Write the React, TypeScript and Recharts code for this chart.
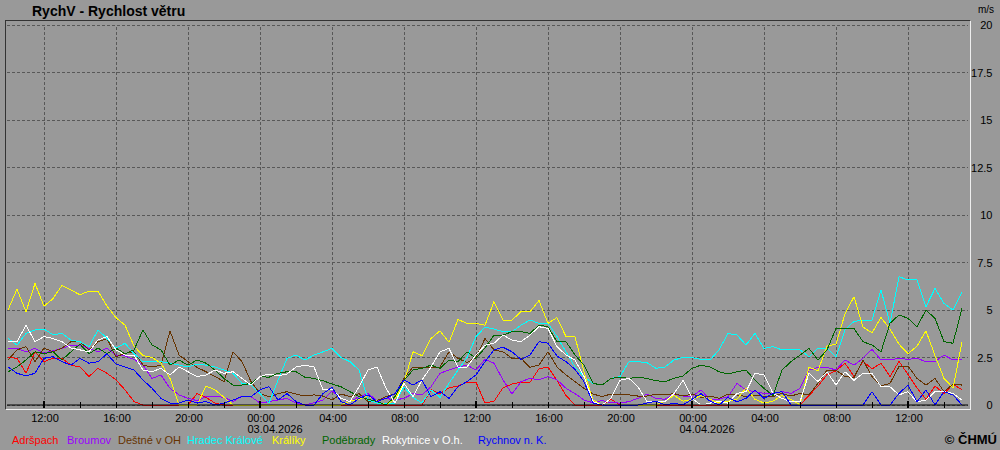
import { CartesianGrid, Line, LineChart, ReferenceLine, XAxis, YAxis } from "recharts";

// 02.04.2026 10:00 is t = 0, one sample every 30 minutes
const START_HOUR = 10;
const START_DAY = 2;
const STEP_H = 0.5;

const ADRSPACH = [
  2.5, 2.46, 1.67, 2.8, 2.28, 2.46, 2.46, 2.1, 2.0, 1.5, 1.93, 1.67, 1.32, 0.8, 0.18, 0, 0, 0, 0, 0, 0, 0.6, 0.4, 0.1, 0, 0, 0,
  0, 0, 0, 0, 0, 0, 0, 0, 0, 0, 0, 0, 0, 0, 0, 0, 0, 0, 0, 0, 0.8, 0.6, 0.9, 1.0, 1.2, 1.2, 0.1,
  0.2, 0.9, 1.1, 1.2, 1.2, 1.9, 2.0, 1.3, 0.5, 0, 0, 0, 0, 0.3, 0, 0, 0, 0, 0, 0, 0, 0, 0, 0, 0, 0, 0,
  0, 0, 0, 0, 0, 0, 0, 0, 0.5, 1.0, 1.6, 1.8, 2.2, 1.5, 2.3, 1.9, 2.2, 1.5, 2.3, 1.6, 0.9, 0.3, 1.0, 0.6, 1.1, 0.8,
];
const BROUMOV = [
  2.98, 2.98, 2.8, 2.98, 2.72, 2.86, 2.98, 3.15, 3.15, 2.98, 2.8, 2.98, 2.63, 2.58, 2.4, 2.1, 1.4, 1.58, 0.88, 0.53, 0.35, 0.23, 0.44, 0.47, 0.4, 0.18, 0.47,
  0.44, 0.1, 0.18, 0.26, 0.35, 0.1, 0, 0.12, 0.26, 0.75, 0.35, 0.18, 0.44, 0.6, 0.23, 0.35, 0.26, 0.35, 0.6, 0.53, 0.96, 1.67, 1.84, 2.0, 2.1, 1.84, 2.4,
  2.2, 1.32, 0.58, 1.23, 1.4, 1.32, 1.5, 1.32, 0.88, 0.6, 0.26, 0.12, 0.23, 0.12, 0.1, 0.18, 0.35, 0.58, 0.35, 0.3, 0.58, 0.47, 0.44, 0.8, 0.26, 0.3, 0.44,
  1.14, 0.79, 0.7, 0.61, 0.61, 0.7, 0.61, 0.88, 1.84, 1.98, 1.98, 1.84, 2.37, 2.1, 2.46, 2.93, 2.37, 2.37, 2.46, 2.4, 2.46, 2.28, 2.28, 2.63, 2.37, 2.4,
];
const DESTNE = [
  2.37, 2.9, 3.07, 2.28, 3.0, 2.8, 3.0, 3.33, 3.33, 2.9, 3.33, 3.5, 2.54, 2.72, 2.8, 2.1, 2.0, 2.1, 3.9, 2.63, 2.28, 1.98, 1.75, 1.5, 1.23, 2.8, 2.28,
  1.23, 0.6, 0.44, 0.6, 0.7, 0.58, 0.47, 0.53, 0.47, 0.26, 0.58, 0.44, 0.6, 0.18, 0.23, 0.44, 0.58, 1.4, 2.0, 1.98, 1.98, 2.0, 2.8, 2.46, 2.23, 2.5, 3.5,
  2.9, 2.8, 2.46, 2.46, 1.98, 2.1, 2.8, 2.0, 1.58, 1.23, 0.88, 0.58, 0.44, 0.58, 0.53, 0.53, 0.47, 0.47, 0.58, 0.53, 0.6, 0.47, 0.58, 0.4, 0.47, 0.35, 0.58,
  0.53, 0.44, 0.53, 0.44, 0.44, 0.61, 0.47, 0.61, 0.53, 1.14, 1.84, 1.84, 1.49, 1.45, 2.37, 1.49, 1.0, 1.14, 2.02, 2.05, 1.4, 1.05, 1.4, 0.7, 1.1, 1.05,
];
const HRADEC = [
  3.5, 3.15, 3.77, 3.95, 4.0, 3.7, 3.77, 3.42, 3.33, 3.07, 3.95, 3.5, 3.0, 3.25, 2.7, 2.28, 2.28, 2.28, 2.2, 2.1, 2.0, 2.15, 2.1, 2.0, 1.85, 1.67, 1.14,
  1.05, 0.6, 0.1, 1.3, 2.45, 2.63, 2.37, 2.63, 2.8, 2.98, 2.5, 2.28, 1.84, 0.26, 0.1, 0.1, 0.1, 0.96, 0.4, 0.1, 0.8, 0.4, 1.14, 1.84, 2.5, 3.6, 4.1,
  4.0, 3.86, 3.86, 4.2, 4.47, 4.3, 4.3, 3.6, 2.8, 2.0, 1.5, 1.14, 1.05, 1.4, 1.5, 2.28, 2.28, 2.23, 1.93, 2.0, 2.37, 2.5, 2.5, 2.4, 2.37, 2.9, 3.77,
  3.68, 3.16, 3.77, 2.98, 3.07, 2.9, 2.9, 2.9, 2.54, 3.0, 2.98, 2.54, 3.95, 4.4, 4.47, 4.47, 6.05, 4.3, 6.75, 6.58, 6.58, 5.17, 6.14, 5.35, 5.0, 5.96,
];
const KRALIKY = [
  5.0, 6.1, 4.9, 6.4, 5.2, 5.6, 6.3, 6.05, 5.8, 6.0, 6.0, 5.2, 4.6, 4.2, 3.1, 2.6, 2.5, 2.2, 1.4, 0, 0, 0, 1.0, 0.8, 0.4, 0, 0,
  0, 0, 0, 0, 0, 0, 0, 0, 0, 0, 0, 0.2, 0.3, 0.5, 0.2, 0, 0.3, 1.2, 2.8, 2.6, 3.5, 3.9, 3.3, 4.5, 4.3, 4.3, 4.2,
  5.44, 4.47, 4.47, 4.91, 4.91, 5.5, 4.3, 4.6, 3.6, 3.6, 1.75, 0.26, 0, 0, 0, 0, 0, 0, 0, 0.2, 0.5, 0.2, 0.3, 0.5, 0.3, 0.1, 0.2,
  0.3, 0.9, 0.3, 0.1, 0.2, 0.5, 0.3, 0, 2.0, 1.8, 3.1, 3.2, 4.8, 5.7, 4.1, 3.8, 4.6, 4.0, 3.2, 2.7, 3.1, 3.9, 2.6, 1.4, 0.9, 3.3,
];
const PODEBRADY = [
  1.75, 2.0, 2.37, 2.8, 2.7, 2.8, 2.37, 2.8, 3.2, 2.7, 3.0, 2.7, 3.0, 2.7, 2.9, 3.95, 3.16, 2.9, 2.1, 2.37, 2.1, 2.37, 2.2, 1.84, 1.4, 1.05, 1.05,
  1.14, 1.5, 1.46, 1.67, 1.75, 1.75, 1.46, 1.4, 1.28, 1.1, 0.96, 0.7, 0.44, 0.3, 0.18, 0, 0.44, 1.3, 1.84, 1.93, 2.1, 1.93, 2.37, 2.28, 2.8, 2.46, 3.0,
  3.68, 3.68, 3.86, 3.86, 3.77, 4.2, 4.12, 3.33, 3.33, 2.63, 2.1, 1.14, 1.05, 1.4, 1.46, 1.4, 1.46, 1.4, 1.28, 1.23, 1.4, 1.53, 1.93, 2.1, 2.0, 1.75, 1.63,
  1.75, 1.84, 1.3, 0.88, 0.5, 1.84, 2.28, 2.63, 2.98, 2.37, 2.9, 4.03, 4.03, 4.03, 3.33, 3.16, 2.8, 4.3, 4.74, 4.56, 4.12, 5.0, 4.56, 3.33, 3.25, 5.09,
];
const ROKYTNICE = [
  3.33, 3.33, 4.2, 3.33, 3.6, 3.5, 3.33, 3.0, 2.9, 2.8, 3.42, 3.6, 2.9, 2.63, 2.63, 1.84, 1.75, 1.93, 1.58, 2.0, 1.75, 1.5, 1.58, 1.84, 1.67, 1.75, 1.4,
  1.05, 1.5, 1.63, 1.53, 1.63, 2.0, 2.1, 2.0, 0.8, 0.83, 0.35, 0.18, 0.96, 1.84, 2.0, 0.88, 0.1, 1.14, 0.44, 1.32, 2.0, 2.8, 2.98, 2.0, 2.0, 2.63, 3.15,
  3.25, 3.68, 3.42, 3.33, 3.68, 4.12, 4.03, 3.07, 2.63, 2.37, 1.5, 0.18, 0, 0.35, 1.3, 1.4, 0.96, 0.18, 0.18, 0.18, 0.6, 1.3, 0.35, 0, 0.1, 0.18, 0.1,
  0.61, 0.7, 1.67, 1.58, 0.61, 0.35, 0.17, 0.17, 1.67, 1.23, 1.75, 1.05, 1.75, 1.3, 1.67, 1.67, 0.96, 0.96, 0.53, 0.7, 0.17, 0.26, 0.7, 0.7, 0.61, 0.26,
];
const RYCHNOV = [
  2.0, 1.67, 1.53, 1.67, 2.46, 2.54, 2.28, 2.1, 2.46, 2.2, 2.28, 2.7, 2.15, 2.0, 1.84, 1.32, 0.88, 0.35, 0.1, 0.1, 0.26, 0.1, 0.18, 0, 0.1, 0.26, 0.44,
  0.44, 0.8, 0.96, 0.26, 0.6, 0.18, 0, 0, 0.6, 0.93, 0.18, 0, 0.35, 0.53, 0.18, 0.35, 0.6, 1.32, 1.05, 1.32, 0.44, 0.7, 0.35, 0.96, 1.23, 1.58, 2.28,
  2.9, 3.04, 2.8, 2.4, 2.63, 3.33, 3.25, 2.58, 2.28, 1.88, 1.23, 0.1, 0, 0, 0, 0, 0, 0.1, 0.2, 0, 0.1, 0, 0.3, 0.6, 0.2, 0, 0.4,
  0.17, 0.35, 0.79, 0.35, 0.61, 0.7, 0, 0, 0, 0, 0, 0, 0, 0, 0, 0.7, 0, 0, 0.61, 1.05, 0.17, 0.79, 0, 0.7, 0.53, 0,
];

const SERIES = [
  { key: "adrspach", name: "Adršpach", color: "#ff0000", values: ADRSPACH },
  { key: "broumov", name: "Broumov", color: "#9900ff", values: BROUMOV },
  { key: "destne", name: "Deštné v OH", color: "#663300", values: DESTNE },
  { key: "hradec", name: "Hradec Králové", color: "#00ffff", values: HRADEC },
  { key: "kraliky", name: "Králíky", color: "#ffff00", values: KRALIKY },
  { key: "podebrady", name: "Poděbrady", color: "#006600", values: PODEBRADY },
  { key: "rokytnice", name: "Rokytnice v O.h.", color: "#ffffff", values: ROKYTNICE },
  { key: "rychnov", name: "Rychnov n. K.", color: "#0000ff", values: RYCHNOV },
];

// left edge of each legend entry
const LEGEND_X = [12, 67, 118, 187, 272, 322, 382, 478];

const X_TICKS = [2, 4, 6, 8, 10, 12, 14, 16, 18, 20, 22, 24, 26, 28, 30, 32, 34, 36, 38, 40, 42, 44, 46, 48, 50, 52];
const X_GRID = [2, 6, 10, 14, 18, 22, 26, 30, 34, 38, 42, 46, 50];
const Y_TICKS = [0, 2.5, 5, 7.5, 10, 12.5, 15, 17.5, 20];

const data = ADRSPACH.map((_, i) => {
  const row: Record<string, number> = { t: i * STEP_H };
  SERIES.forEach((s) => {
    row[s.key] = s.values[i];
  });
  return row;
});

const FONT = "'Liberation Sans', Arial, sans-serif";
const GRID_COLOR = "#585858";

const pad = (n: number) => n.toString().padStart(2, "0");

function TimeTick(props: any) {
  const { x, y, payload } = props;
  const abs = START_HOUR + payload.value;
  const hour = abs % 24;
  const major = hour % 12 === 0;
  const day = START_DAY + Math.floor(abs / 24);
  return (
    <g style={{ shapeRendering: "crispEdges" }}>
      {major ? (
        <rect x={x - 1} y={y - 4} width={2} height={7} fill="#000" />
      ) : (
        <line x1={x} x2={x} y1={y - 3} y2={y + 3} stroke="#000" />
      )}
      {hour % 4 === 0 && (
        <text x={x + 1} y={y + 16.5} textAnchor="middle" fontSize={11} fontFamily={FONT} fill="#000">
          {pad(hour)}:00
        </text>
      )}
      {hour === 0 && (
        <text x={x - 12.5} y={y + 27.5} fontSize={11} fontFamily={FONT} fill="#000">
          {pad(day)}.04.2026
        </text>
      )}
    </g>
  );
}

function ValueTick(props: any) {
  const { x, y, payload } = props;
  return (
    <text x={x + 24.5} y={y + 4} textAnchor="end" fontSize={11} fontFamily={FONT} fill="#000">
      {payload.value}
    </text>
  );
}

export default function App() {
  return (
    <div
      style={{
        position: "absolute",
        left: 0,
        top: 0,
        width: 1000,
        height: 450,
        background: "#999999",
        fontFamily: FONT,
      }}
    >
      <div
        style={{
          position: "absolute",
          left: 5,
          top: 20,
          width: 966,
          height: 390,
          boxSizing: "border-box",
          borderTop: "1px solid #333",
          borderLeft: "1px solid #333",
          borderRight: "1px solid #eeeeee",
          borderBottom: "1px solid #eeeeee",
        }}
      />
      <svg width={1000} height={450} style={{ position: "absolute", left: 0, top: 0 }}>
        <text x={32} y={15.5} fontSize={14} fontWeight="bold" fontFamily={FONT} fill="#000">
          RychV - Rychlost větru
        </text>
        <text x={978} y={13} fontSize={10} fontFamily={FONT} fill="#000">
          m/s
        </text>
        {SERIES.map((s, i) => (
          <text key={s.key} x={LEGEND_X[i]} y={444} fontSize={11} fontFamily={FONT} fill={s.color}>
            {s.name}
          </text>
        ))}
        <text x={997} y={444} textAnchor="end" fontSize={13} fontWeight="bold" fontFamily={FONT} fill="#000">
          © ČHMÚ
        </text>
      </svg>
      <div style={{ position: "absolute", left: 0, top: 0 }}>
        <LineChart width={1000} height={450} data={data} margin={{ top: 25, right: 0, bottom: 0, left: 7 }}>
          <CartesianGrid
            vertical={false}
            stroke={GRID_COLOR}
            strokeDasharray="3 2"
            style={{ shapeRendering: "crispEdges" }}
          />
          {X_GRID.map((t) => (
            <ReferenceLine
              key={t}
              x={t}
              stroke={GRID_COLOR}
              strokeDasharray="3 2"
              style={{ shapeRendering: "crispEdges" }}
            />
          ))}
          <XAxis
            dataKey="t"
            type="number"
            domain={[-1 / 18, 53 + 1 / 3]}
            ticks={X_TICKS}
            interval={0}
            height={45}
            tickSize={0}
            tickMargin={0}
            tickLine={false}
            axisLine={{ stroke: "#000" }}
            tick={TimeTick}
          />
          <YAxis
            orientation="right"
            type="number"
            domain={[0, 20]}
            ticks={Y_TICKS}
            interval={0}
            width={32}
            tickSize={0}
            tickMargin={0}
            tickLine={false}
            axisLine={false}
            tick={ValueTick}
          />
          {SERIES.map((s) => (
            <Line
              key={s.key}
              type="linear"
              dataKey={s.key}
              name={s.name}
              stroke={s.color}
              strokeWidth={1}
              dot={false}
              activeDot={false}
              isAnimationActive={false}
              style={{ shapeRendering: "crispEdges" }}
            />
          ))}
        </LineChart>
      </div>
    </div>
  );
}
